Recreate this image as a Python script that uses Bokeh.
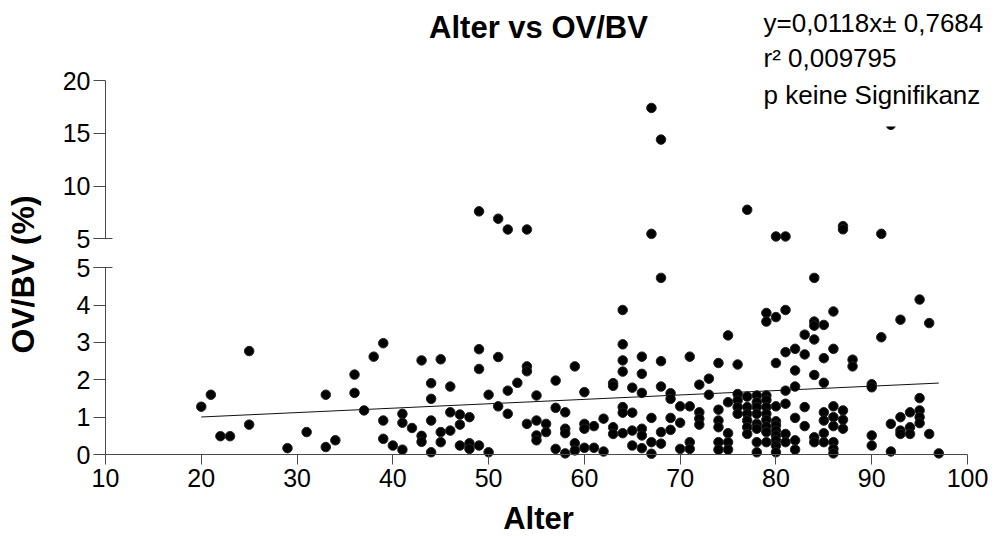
import math
from bokeh.plotting import figure
from bokeh.models import Range1d, LinearAxis, FixedTicker, Label, ColumnDataSource
from bokeh.embed import file_html
from bokeh.resources import INLINE

# ---------------- data ----------------
alter = [
    20, 21, 22, 23, 25, 25, 29, 31, 33, 33, 34, 36, 36, 37, 38, 39, 39, 39, 40,
    41, 41, 41, 42, 43, 43, 43, 44, 44, 44, 44, 45, 45, 45, 46, 46, 46,
    47, 47, 47, 48, 48, 48, 49, 49, 49, 50, 50, 51, 51, 52, 52, 53,
    54, 54, 54, 55, 55, 55, 55, 56, 56, 57, 57, 57, 58, 58, 58, 58,
    59, 59, 59, 60, 60, 60, 60, 61, 61, 62, 62, 63, 63, 63, 63,
    64, 64, 64, 64, 64, 64, 64, 65, 65, 65, 65, 66, 66, 66, 66, 66, 66,
    67, 67, 67, 68, 68, 68, 68, 68, 69, 69, 69, 69, 70, 70, 70,
    71, 71, 71, 71, 72, 72, 72, 72, 73, 73, 74, 74, 74, 74, 74, 74,
    75, 75, 75, 75, 75, 76, 76, 76, 76, 76, 77, 77, 77, 77, 77, 77,
    78, 78, 78, 78, 78, 78, 78, 78, 79, 79, 79, 79, 79, 79, 79, 79, 79, 79,
    80, 80, 80, 80, 80, 80, 80, 80, 80, 80, 81, 81, 81, 81, 81, 81,
    82, 82, 82, 82, 82, 82, 83, 83, 83, 83, 84, 84, 84, 84, 84, 84, 84,
    85, 85, 85, 85, 85, 85, 85, 86, 86, 86, 86, 86, 86, 86, 86,
    87, 87, 87, 88, 88, 90, 90, 90, 90, 91, 92, 92, 93, 93, 93, 93,
    94, 94, 94, 95, 95, 95, 95, 95, 96, 96, 97,
    # values above 5 (upper axis segment)
    49, 51, 52, 54, 67, 67, 68, 77, 80, 81, 87, 87, 91, 92,
]
ovbv = [
    1.28, 1.60, 0.49, 0.49, 2.77, 0.80, 0.17, 0.60, 1.60, 0.20, 0.38, 2.14, 1.65, 1.18, 2.62, 2.98, 0.91, 0.42, 0.24,
    1.09, 0.85, 0.13, 0.71, 2.52, 0.50, 0.34, 1.91, 1.49, 0.91, 0.06, 2.55, 0.60, 0.33, 1.82, 1.13, 0.64,
    1.07, 0.80, 0.24, 1.00, 0.30, 0.15, 2.82, 2.29, 0.24, 1.60, 0.06, 2.61, 1.29, 1.71, 1.09, 1.92,
    2.36, 2.23, 0.82, 1.58, 0.91, 0.51, 0.38, 0.82, 0.60, 1.98, 1.25, 0.15, 1.13, 0.69, 0.57, 0.03,
    2.36, 0.30, 0.11, 1.67, 0.82, 0.69, 0.18, 0.76, 0.18, 0.96, 0.08, 1.91, 1.84, 0.73, 0.55,
    3.87, 2.95, 2.52, 2.22, 1.27, 1.12, 0.57, 1.79, 1.12, 0.64, 0.24, 2.62, 2.16, 1.65, 0.69, 0.51, 0.17,
    0.98, 0.33, 0.02, 4.73, 2.50, 1.82, 0.60, 0.29, 1.64, 1.49, 0.98, 0.66, 1.29, 0.85, 0.15,
    2.62, 1.29, 0.33, 0.15, 1.87, 1.13, 0.96, 0.80, 2.03, 1.60, 2.45, 1.20, 0.91, 0.73, 0.33, 0.13,
    3.19, 1.40, 0.57, 0.33, 0.13, 2.41, 1.62, 1.45, 1.27, 1.09, 1.55, 1.27, 1.09, 0.91, 0.73, 0.55,
    1.58, 1.40, 1.27, 1.09, 0.82, 0.69, 0.33, 0.06, 3.79, 3.56, 1.58, 1.46, 1.27, 1.09, 0.93, 0.75, 0.60, 0.33,
    3.68, 2.45, 1.29, 0.89, 0.78, 0.64, 0.51, 0.38, 0.24, 0.06, 3.87, 2.74, 1.71, 1.36, 0.55, 0.33,
    2.83, 2.25, 1.82, 0.98, 0.38, 0.13, 3.21, 2.68, 1.27, 0.76, 4.73, 3.56, 3.45, 3.08, 2.13, 0.46, 0.33,
    3.47, 2.58, 1.92, 1.13, 0.91, 0.57, 0.33, 3.83, 2.83, 1.29, 1.00, 0.76, 0.33, 0.15, 0.03,
    1.18, 0.93, 0.69, 2.54, 2.36, 1.88, 1.80, 0.51, 0.24, 3.14, 0.82, 0.08, 3.61, 1.00, 0.64, 0.55,
    1.13, 0.73, 0.55, 4.15, 1.51, 1.18, 1.00, 0.84, 3.52, 0.55, 0.03,
    7.60, 6.90, 5.88, 5.88, 17.40, 5.47, 14.40, 7.75, 5.22, 5.22, 6.20, 5.90, 5.47, 15.80,
]

x_ticks = [10, 20, 30, 40, 50, 60, 70, 80, 90, 100]
y_ticks_lower = [0, 1, 2, 3, 4, 5]
y_ticks_upper = [5, 10, 15, 20]
axis_break = 5

# regression from the chart's own statistics
slope = 0.0118
intercept = 0.7684
fit_x = [20, 97]
fit_y = [slope * v + intercept for v in fit_x]

title_text = "Alter vs OV/BV"
x_label = "Alter"
y_label = "OV/BV (%)"
stats_lines = ["y=0,0118x\u00b1 0,7684", "r\u00b2 0,009795", "p keine Signifikanz"]

# ---------------- layout (page pixels) ----------------
W, H = 997, 536
AX_LEFT_PX, AX_RIGHT_PX = 105, 967    # x = 10 .. 100
ZERO_PX = 454                         # value 0 of lower segment
LO_PER = 37.34                        # px per unit, lower segment (0..5)
TOP20_PX = 80                         # value 20 of upper segment
HI_PER = 10.553                       # px per unit, upper segment (5..20)
X_PER = (AX_RIGHT_PX - AX_LEFT_PX) / 90.0

# the frame fills the whole canvas, so texts drawn outside the axes stay visible
x_start = 10 - AX_LEFT_PX / X_PER
x_end = 10 + (W - AX_LEFT_PX) / X_PER
lo_end = ZERO_PX / LO_PER
lo_start = (ZERO_PX - H) / LO_PER
hi_end = 20 + TOP20_PX / HI_PER
hi_start = 20 - (H - TOP20_PX) / HI_PER


def px_x(px):
    return 10 + (px - AX_LEFT_PX) / X_PER


def py_lo(py):
    return (ZERO_PX - py) / LO_PER


def py_hi(py):
    return 20 - (py - TOP20_PX) / HI_PER


FONT = "Liberation Sans"
AX_COLOR = "#4a4a4a"

p = figure(width=W, height=H, x_range=Range1d(x_start, x_end), y_range=Range1d(lo_start, lo_end),
           output_backend="svg", toolbar_location=None, x_axis_location=None, y_axis_location=None,
           min_border=0)
p.extra_y_ranges = {"upper": Range1d(hi_start, hi_end)}
p.xgrid.visible = False
p.ygrid.visible = False
p.outline_line_color = None
p.background_fill_color = "white"
p.border_fill_color = "white"

# x axis at y = 0
xa = LinearAxis(ticker=FixedTicker(ticks=x_ticks), fixed_location=0, bounds=(10, 100))
xa.axis_line_color = AX_COLOR
xa.major_tick_line_color = AX_COLOR
xa.major_tick_out = 10
xa.major_tick_in = 0
xa.minor_tick_line_color = None
xa.major_label_text_font = FONT
xa.major_label_text_font_size = "25px"
xa.major_label_text_color = "black"
xa.major_label_standoff = 4
p.add_layout(xa, "below")


def make_yaxis(range_name, ticks, bounds, labels=True, tick_in=0):
    kw = dict(ticker=FixedTicker(ticks=ticks), bounds=bounds, fixed_location=10)
    if range_name:
        kw["y_range_name"] = range_name
    a = LinearAxis(**kw)
    a.axis_line_color = AX_COLOR if labels else None
    a.major_tick_line_color = AX_COLOR
    a.major_tick_out = 12
    a.major_tick_in = tick_in
    a.minor_tick_line_color = None
    a.major_label_text_font = FONT
    a.major_label_text_font_size = "25px"
    a.major_label_text_color = "black" if labels else None
    a.major_label_standoff = 3
    p.add_layout(a, "left")
    return a


make_yaxis(None, y_ticks_lower, (0, axis_break))
make_yaxis("upper", y_ticks_upper, (axis_break, 20))
make_yaxis(None, [axis_break], (0, axis_break), labels=False, tick_in=7)
make_yaxis("upper", [axis_break], (axis_break, 20), labels=False, tick_in=7)

lo_x = [a for a, v in zip(alter, ovbv) if v <= axis_break]
lo_y = [v for v in ovbv if v <= axis_break]
hi_x = [a for a, v in zip(alter, ovbv) if v > axis_break]
hi_y = [v for v in ovbv if v > axis_break]

p.line(fit_x, fit_y, line_color="#111111", line_width=1)
p.scatter(x="x", y="y", source=ColumnDataSource(dict(x=lo_x, y=lo_y)), size=9.5,
          fill_color="black", line_color="#222222")
p.scatter(x="x", y="y", source=ColumnDataSource(dict(x=hi_x, y=hi_y)), size=9.5,
          fill_color="black", line_color="#222222", y_range_name="upper")

# texts
p.add_layout(Label(x=px_x(538), y=py_hi(27), y_range_name="upper", text=title_text,
                   text_font=FONT, text_font_size="31px", text_font_style="bold",
                   text_align="center", text_baseline="alphabetic", text_color="black"))
p.add_layout(Label(x=px_x(538), y=py_lo(518), text=x_label,
                   text_font=FONT, text_font_size="31px", text_font_style="bold",
                   text_align="center", text_baseline="alphabetic", text_color="black"))
p.add_layout(Label(x=px_x(22), y=py_lo(274), text=y_label, angle=math.pi / 2,
                   text_font=FONT, text_font_size="32px", text_font_style="bold",
                   text_align="center", text_baseline="middle", text_color="black"))

# the statistics box (white background hides the marks behind it)
for i, base in [(0, 22), (1, 57)]:
    p.add_layout(Label(x=px_x(763), y=py_hi(base), y_range_name="upper", text=stats_lines[i],
                       text_font=FONT, text_font_size="26px", text_align="left",
                       text_baseline="alphabetic", text_color="black"))
p.add_layout(Label(x=px_x(763), y=py_hi(79), y_range_name="upper", text=stats_lines[2],
                   text_font=FONT, text_font_size="26px", text_align="left",
                   text_baseline="top", text_color="black",
                   background_fill_color="white",
                   padding=dict(left=0, right=0, top=0, bottom=17)))

open("out.html", "w").write(file_html(p, INLINE))
